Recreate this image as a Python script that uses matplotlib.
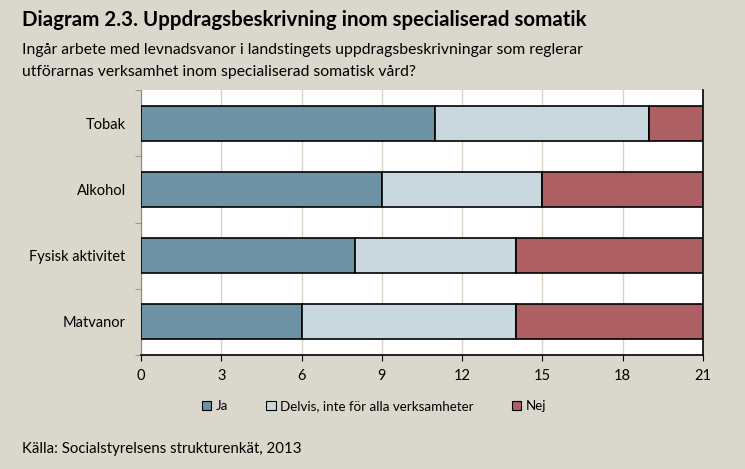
import matplotlib.pyplot as plt
from matplotlib.patches import Patch

categories = ["Tobak", "Alkohol", "Fysisk aktivitet", "Matvanor"]
ja = [11, 9, 8, 6]
delvis = [8, 6, 6, 8]
nej = [2, 6, 7, 7]
series_names = ["Ja", "Delvis, inte för alla verksamheter", "Nej"]
colors = ["#6E93A5", "#C9D7DE", "#AD5F63"]
bg = "#DAD8CC"

plt.rcParams["font.family"] = ["Lato", "DejaVu Sans"]

fig = plt.figure(figsize=(7.45, 4.69), dpi=100, facecolor=bg)
ax = fig.add_axes([141 / 745, 1 - 355 / 469, 562 / 745, 265 / 469])

y = list(range(len(categories)))
left = [0] * len(categories)
for vals, col in zip([ja, delvis, nej], colors):
    ax.barh(y, vals, left=left, height=0.53, color=col, edgecolor="black", linewidth=1.2, zorder=3)
    left = [a + b for a, b in zip(left, vals)]

ax.set_ylim(3.5, -0.5)
ax.set_xlim(0, 21)
ax.set_xticks(range(0, 22, 3))
ax.set_yticks(y)
ax.set_yticklabels(categories, fontsize=10.5)
ax.tick_params(axis="y", length=0, pad=11)
ax.set_yticks([-0.5, 0.5, 1.5, 2.5, 3.5], minor=True)
ax.tick_params(axis="y", which="minor", length=4, color="#888888", direction="out")
ax.tick_params(axis="x", length=4, direction="out", labelsize=10.5, pad=6)
ax.grid(axis="x", color="#D6D3C6", linewidth=1, zorder=0)

ax.spines["top"].set_visible(False)
ax.spines["left"].set_color("#888888")
ax.spines["right"].set_linewidth(1.2)
ax.spines["bottom"].set_linewidth(1.2)

handles = [Patch(facecolor=c, edgecolor="black", linewidth=0.8) for c in colors]
fig.legend(handles, series_names, loc="center", bbox_to_anchor=(374 / 745, 1 - 406 / 469),
           ncol=3, frameon=False, fontsize=9.6, handlelength=0.7, handleheight=0.7,
           handletextpad=0.3, columnspacing=2.9)

fig.text(22 / 745, 1 - 20 / 469, "Diagram 2.3. Uppdragsbeskrivning inom specialiserad somatik",
         fontsize=14.8, fontweight="bold", va="center", ha="left")
fig.text(22 / 745, 1 - 50 / 469, "Ingår arbete med levnadsvanor i landstingets uppdragsbeskrivningar som reglerar",
         fontsize=11.3, va="center", ha="left")
fig.text(22 / 745, 1 - 72 / 469, "utförarnas verksamhet inom specialiserad somatisk vård?",
         fontsize=11.3, va="center", ha="left")
fig.text(22 / 745, 1 - 449 / 469, "Källa: Socialstyrelsens strukturenkät, 2013",
         fontsize=10.8, va="center", ha="left")

fig.savefig("out.png", dpi=100, facecolor=bg)
